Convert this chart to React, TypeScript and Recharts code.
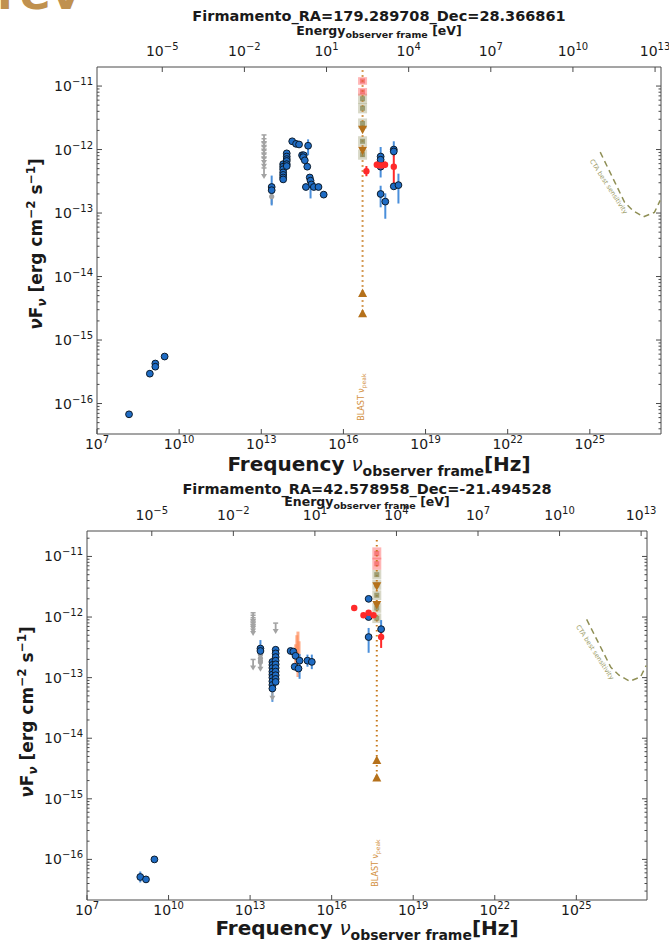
import React from 'react';
import { ScatterChart, Scatter, XAxis, YAxis, ErrorBar, ReferenceLine, ReferenceDot } from 'recharts';

const FONT = "'DejaVu Sans', sans-serif";
const INK = '#1a1a1a';
const SPINE = '#4a4a4a';
const H_EV = Math.log10(4.135667e-15); // Planck constant, eV s

// everything below is log10: nu in Hz, nuFnu in erg cm-2 s-1
const nuDomain: [number, number] = [7, 27.6];
const nuTicks = [7, 10, 13, 16, 19, 22, 25];
const energyTicks = [-5, -2, 1, 4, 7, 10, 13];
const fluxDecades = [-17, -16, -15, -14, -13, -12, -11];

const ctaNu = [25.38, 26.27, 26.57, 26.96, 27.36, 27.57];
const ctaF = [-12.04, -12.83, -12.96, -13.06, -12.99, -12.8];
const ctaLabel = { nu: 25.62, f: -12.6 };

// ---- top source
const topTitle = 'Firmamento_RA=179.289708_Dec=28.366861';
const topFluxDomain: [number, number] = [-16.48, -10.7];
const topRadioNu = [8.17, 8.93, 9.13, 9.13, 9.47];
const topRadioF = [-16.17, -15.53, -15.37, -15.42, -15.26];
const topIrNu = [13.38, 13.38, 13.8, 13.8, 13.8, 13.8, 13.8, 13.8, 13.8, 13.93, 13.93, 13.93, 13.93, 13.93, 13.93, 14.13, 14.27, 14.38, 14.71, 14.49, 14.55, 14.53, 14.59, 14.68, 14.77, 14.8, 14.83, 14.63, 14.92, 15.09, 15.28];
const topIrF = [-12.59, -12.64, -12.23, -12.27, -12.31, -12.36, -12.4, -12.44, -12.47, -12.06, -12.11, -12.15, -12.18, -12.23, -12.26, -11.87, -11.91, -11.92, -11.94, -12.09, -12.09, -12.12, -12.17, -12.27, -12.44, -12.49, -12.55, -12.59, -12.59, -12.59, -12.71];
const topIrLo = [0.29, 0, 0, 0, 0, 0, 0, 0, 0, 0, 0, 0, 0, 0, 0, 0, 0, 0, 0.15, 0, 0, 0, 0, 0, 0, 0.28, 0, 0, 0, 0, 0];
const topIrHi = [0.18, 0, 0, 0, 0, 0, 0, 0, 0, 0, 0, 0, 0, 0, 0, 0, 0, 0, 0.1, 0, 0, 0, 0, 0, 0, 0.05, 0, 0, 0, 0, 0];
const topXNu = [17.36, 17.36, 17.36, 17.36, 17.53, 17.84, 17.84, 17.84, 18.01];
const topXF = [-12.11, -12.16, -12.27, -12.7, -12.82, -12.0, -12.03, -12.58, -12.56];
const topXLo = [0, 0.28, 0, 0.21, 0.27, 0, 0.08, 0, 0.29];
const topXHi = [0.15, 0, 0, 0.13, 0.13, 0.13, 0, 0, 0.18];
const topRedNu = [16.84, 17.22, 17.32, 17.42, 17.52, 17.84];
const topRedF = [-12.34, -12.24, -12.25, -12.25, -12.24, -12.27];
const topRedLo = [0.08, 0.05, 0.05, 0.05, 0.05, 0.32];
const topRedHi = [0.08, 0.05, 0.05, 0.05, 0.05, 0.26];
const topRedXe = [0, 0.1, 0.1, 0.1, 0.1, 0];
const topUlNu = [13.1];
const topUlF = [-11.77, -11.83, -11.89, -11.95, -12.01, -12.07, -12.13, -12.29];
const topGreyNu = [13.38];
const topGreyF = [-12.66, -12.74];
const topGreyErr = [0.12, 0.12];
const topBlastNu = 16.7;
const topBlastSpan: [number, number] = [-10.75, -14.58];
const topBlastRedF = [-10.92, -11.09];
const topBlastRedErr = [0.06, 0.06];
const topBlastOliveF = [-11.2, -11.35, -11.59, -11.87, -12.08];
const topBlastOliveErr = [0.08, 0.08, 0.08, 0.08, 0.08];
const topBlastDownF = [-11.69, -12.02];
const topBlastUpF = [-14.26, -14.58];
const topBlastLabelF = -15.9;

// ---- bottom source
const botTitle = 'Firmamento_RA=42.578958_Dec=-21.494528';
const botFluxDomain: [number, number] = [-16.67, -10.58];
const botRadioNu = [8.96, 9.17, 9.48];
const botRadioF = [-16.29, -16.33, -16.0];
const botRadioErr = [0.09, 0.04, 0.03];
const botIrNu = [13.38, 13.38, 13.82, 13.82, 13.82, 13.82, 13.82, 13.82, 13.82, 13.82, 13.82, 13.94, 13.94, 13.94, 13.94, 13.94, 13.94, 13.94, 13.94, 13.94, 13.94, 14.49, 14.59, 14.67, 14.82, 14.64, 14.78, 15.11, 15.27];
const botIrF = [-12.52, -12.56, -12.74, -12.79, -12.84, -12.9, -12.95, -13.0, -13.06, -13.12, -13.18, -12.54, -12.6, -12.66, -12.72, -12.78, -12.84, -12.9, -12.96, -13.02, -13.07, -12.56, -12.57, -12.64, -12.72, -12.82, -12.85, -12.72, -12.74];
const botIrLo = [0, 0.2, 0, 0, 0, 0, 0, 0, 0, 0, 0.22, 0, 0, 0, 0, 0, 0, 0, 0, 0, 0, 0, 0, 0, 0.3, 0, 0, 0.1, 0.12];
const botIrHi = [0.14, 0, 0, 0, 0, 0, 0, 0, 0, 0, 0, 0, 0, 0, 0, 0, 0, 0, 0, 0, 0, 0, 0, 0, 0.11, 0, 0, 0.1, 0.12];
const botSalmonNu = [14.68, 14.72, 14.76, 14.8];
const botSalmonF = [-12.62, -12.6, -12.62, -12.55];
const botSalmonLo = [0.18, 0.3, 0.37, 0.15];
const botSalmonHi = [0.17, 0.3, 0.38, 0.15];
const botXNu = [17.36, 17.36, 17.36, 17.82];
const botXF = [-11.7, -12.0, -12.33, -12.2];
const botXLo = [0, 0, 0.26, 0];
const botXHi = [0, 0, 0.15, 0.15];
const botRedNu = [16.83, 17.17, 17.36, 17.54, 17.82];
const botRedF = [-11.85, -11.97, -11.93, -11.97, -12.33];
const botRedLo = [0, 0, 0, 0, 0.18];
const botRedHi = [0, 0, 0, 0, 0.12];
const botRedXe = [0, 0.05, 0.05, 0.05, 0];
const botUlNu = [13.11, 13.11, 13.11, 13.11, 13.11, 13.11, 13.11, 13.38, 13.94, 13.82];
const botUlF = [-11.93, -11.97, -12.01, -12.05, -12.09, -12.13, -12.7, -12.72, -12.1, -13.2];
const botGreyNu = [13.38];
const botGreyF = [-12.62, -12.68, -12.74];
const botGreyErr = [0.1, 0.1, 0.1];
const botBlastNu = 17.66;
const botBlastSpan: [number, number] = [-10.73, -14.65];
const botBlastRedF = [-10.95, -11.12];
const botBlastRedErr = [0.1, 0.1];
const botBlastOliveF = [-11.3, -11.47, -11.64, -11.85, -12.02];
const botBlastOliveErr = [0.08, 0.08, 0.08, 0.08, 0.08];
const botBlastDownF = [-11.49, -11.8];
const botBlastUpF = [-14.36, -14.65];
const botBlastLabelF = -16.06;

type Pt = { x: number; y: number; ey: [number, number]; ex: [number, number] };
const pts = (nu: number[], f: number[], lo: number[] = [], hi: number[] = lo, xe: number[] = []): Pt[] =>
  f.map((y, i) => ({
    x: nu[Math.min(i, nu.length - 1)],
    y,
    ey: [lo[i] ?? 0, hi[i] ?? 0],
    ex: [xe[i] ?? 0, xe[i] ?? 0],
  }));

const fluxTicks = (dom: [number, number]) => {
  const out: number[] = [];
  fluxDecades.forEach((d) => {
    for (let k = 1; k <= 9; k++) {
      const v = d + Math.log10(k);
      if (v >= dom[0] && v <= dom[1]) out.push(v);
    }
  });
  return out;
};

const sup = (v: number) => (v < 0 ? '\u2212' + Math.abs(v) : String(v));

const FluxTick = (p: any) => {
  const v = p.payload.value;
  const major = Math.abs(v - Math.round(v)) < 1e-6;
  const len = major ? 5 : 2.5;
  return (
    <g>
      <line x1={p.x} x2={p.x + p.side * len} y1={p.y} y2={p.y} stroke={SPINE} strokeWidth={1} />
      {major && p.side > 0 && (
        <text x={p.x - 4} y={p.y + 5} textAnchor="end" fontSize={14} fontFamily={FONT} fill={INK}>
          10<tspan dy={-6} fontSize={10}>{sup(Math.round(v))}</tspan>
        </text>
      )}
    </g>
  );
};

const FreqTick = (p: any) => (
  <g>
    <line x1={p.x} x2={p.x} y1={p.y} y2={p.y - 5} stroke={SPINE} />
    <text x={p.x} y={p.y + 15} textAnchor="middle" fontSize={14} fontFamily={FONT} fill={INK}>
      10<tspan dy={-6} fontSize={10}>{sup(p.payload.value)}</tspan>
    </text>
  </g>
);

const EnergyTick = (p: any) => (
  <g>
    <line x1={p.x} x2={p.x} y1={p.y} y2={p.y + 5} stroke={SPINE} />
    <text x={p.x} y={p.y - 11} textAnchor="middle" fontSize={14} fontFamily={FONT} fill={INK}>
      10<tspan dy={-6} fontSize={10}>{sup(p.payload.value)}</tspan>
    </text>
  </g>
);

const BlueDot = (p: any) => <circle cx={p.cx} cy={p.cy} r={3.4} fill="#1f6cc4" stroke="#0d1b2a" strokeWidth={1} />;
const RedDot = (p: any) => <circle cx={p.cx} cy={p.cy} r={3.2} fill="#ff2a2a" />;
const GreyDot = (p: any) => <circle cx={p.cx} cy={p.cy} r={2.6} fill="#a3a3a3" />;
const NoDot = () => <g />;
const GreyArrow = (p: any) => (
  <g>
    <line x1={p.cx - 2.5} x2={p.cx + 2.5} y1={p.cy} y2={p.cy} stroke="#a3a3a3" strokeWidth={1.5} />
    <line x1={p.cx} x2={p.cx} y1={p.cy} y2={p.cy + 7} stroke="#a3a3a3" strokeWidth={1.8} />
    <polygon points={`${p.cx - 3},${p.cy + 6} ${p.cx + 3},${p.cy + 6} ${p.cx},${p.cy + 11}`} fill="#a3a3a3" />
  </g>
);
const DownTri = (p: any) => (
  <polygon points={`${p.cx - 4.5},${p.cy - 4} ${p.cx + 4.5},${p.cy - 4} ${p.cx},${p.cy + 4.5}`} fill="#b5711b" />
);
const UpTri = (p: any) => (
  <polygon points={`${p.cx - 4.5},${p.cy + 4} ${p.cx + 4.5},${p.cy + 4} ${p.cx},${p.cy - 4.5}`} fill="#b5711b" />
);
const OliveSq = (p: any) => <rect x={p.cx - 2.5} y={p.cy - 2.5} width={5} height={5} fill="#8a8a55" opacity={0.75} />;
const RedSq = (p: any) => <rect x={p.cx - 2.5} y={p.cy - 2.5} width={5} height={5} fill="#f04848" opacity={0.55} />;

interface PanelCfg {
  title: string;
  top: number;
  height: number;
  margin: { top: number; right: number; bottom: number; left: number };
  yDomain: [number, number];
  blue: Pt[];
  red: Pt[];
  grey: Pt[];
  ul: Pt[];
  salmon: Pt[];
  blastNu: number;
  blastSpan: [number, number];
  blastRed: Pt[];
  blastOlive: Pt[];
  blastDown: Pt[];
  blastUp: Pt[];
  blastLabelF: number;
  text: { cx: number; titleY: number; energyY: number; xLabelY: number; yLabelX: number; yLabelY: number };
}

const cta = pts(ctaNu, ctaF);

const panels: PanelCfg[] = [
  {
    title: topTitle,
    top: 0,
    height: 470,
    margin: { top: 37, right: 7, bottom: 6, left: 37 },
    yDomain: topFluxDomain,
    blue: [...pts(topRadioNu, topRadioF), ...pts(topIrNu, topIrF, topIrLo, topIrHi), ...pts(topXNu, topXF, topXLo, topXHi)],
    red: pts(topRedNu, topRedF, topRedLo, topRedHi, topRedXe),
    grey: pts(topGreyNu, topGreyF, topGreyErr),
    ul: pts(topUlNu, topUlF),
    salmon: [],
    blastNu: topBlastNu,
    blastSpan: topBlastSpan,
    blastRed: pts([topBlastNu], topBlastRedF, topBlastRedErr),
    blastOlive: pts([topBlastNu], topBlastOliveF, topBlastOliveErr),
    blastDown: pts([topBlastNu], topBlastDownF),
    blastUp: pts([topBlastNu], topBlastUpF),
    blastLabelF: topBlastLabelF,
    text: { cx: 379, titleY: 9, energyY: 25, xLabelY: 454, yLabelX: 36, yLabelY: 244 },
  },
  {
    title: botTitle,
    top: 470,
    height: 472,
    margin: { top: 31, right: 21, bottom: 12, left: 27 },
    yDomain: botFluxDomain,
    blue: [...pts(botRadioNu, botRadioF, botRadioErr), ...pts(botIrNu, botIrF, botIrLo, botIrHi), ...pts(botXNu, botXF, botXLo, botXHi)],
    red: pts(botRedNu, botRedF, botRedLo, botRedHi, botRedXe),
    grey: pts(botGreyNu, botGreyF, botGreyErr),
    ul: pts(botUlNu, botUlF),
    salmon: pts(botSalmonNu, botSalmonF, botSalmonLo, botSalmonHi),
    blastNu: botBlastNu,
    blastSpan: botBlastSpan,
    blastRed: pts([botBlastNu], botBlastRedF, botBlastRedErr),
    blastOlive: pts([botBlastNu], botBlastOliveF, botBlastOliveErr),
    blastDown: pts([botBlastNu], botBlastDownF),
    blastUp: pts([botBlastNu], botBlastUpF),
    blastLabelF: botBlastLabelF,
    text: { cx: 367, titleY: 482, energyY: 496, xLabelY: 918, yLabelX: 27, yLabelY: 712 },
  },
];

const ids = { xAxisId: 'x', yAxisId: 'y' };

function SedPanel({ cfg }: { cfg: PanelCfg }) {
  const yTicks = fluxTicks(cfg.yDomain);
  // the energy axis and the mirrored flux axis carry the same points, invisibly, so that they get drawn
  const mirrored = cfg.blastUp.map((p) => ({ ...p, x: p.x + H_EV }));
  return (
    <div style={{ position: 'absolute', left: 0, top: cfg.top }}>
      <ScatterChart width={669} height={cfg.height} margin={cfg.margin}>
        <XAxis xAxisId="x" dataKey="x" type="number" domain={nuDomain} allowDataOverflow ticks={nuTicks} interval={0}
          height={30} tickSize={0} tickMargin={0} tickLine={false} axisLine={{ stroke: SPINE }} tick={FreqTick} />
        <XAxis xAxisId="e" dataKey="x" orientation="top" type="number" domain={[nuDomain[0] + H_EV, nuDomain[1] + H_EV]} allowDataOverflow
          ticks={energyTicks} interval={0} height={30} tickSize={0} tickMargin={0} tickLine={false} axisLine={{ stroke: SPINE }} tick={EnergyTick} />
        <YAxis yAxisId="y" dataKey="y" type="number" domain={cfg.yDomain} allowDataOverflow ticks={yTicks} interval={0}
          width={60} tickSize={0} tickMargin={0} tickLine={false} axisLine={{ stroke: SPINE }} tick={(p: any) => <FluxTick {...p} side={1} />} />
        <YAxis yAxisId="r" dataKey="y" orientation="right" type="number" domain={cfg.yDomain} allowDataOverflow ticks={yTicks} interval={0}
          width={1} tickSize={0} tickMargin={0} tickLine={false} axisLine={{ stroke: SPINE }} tick={(p: any) => <FluxTick {...p} side={-1} />} />

        <Scatter xAxisId="e" yAxisId="r" data={mirrored} shape={NoDot} isAnimationActive={false} />

        <Scatter {...ids} data={cfg.blastOlive} shape={OliveSq} isAnimationActive={false}>
          <ErrorBar dataKey="ey" direction="y" width={0} stroke="rgba(125,125,70,0.3)" strokeWidth={9} />
        </Scatter>
        <Scatter {...ids} data={cfg.blastRed} shape={RedSq} isAnimationActive={false}>
          <ErrorBar dataKey="ey" direction="y" width={0} stroke="rgba(255,90,90,0.45)" strokeWidth={9} />
        </Scatter>
        <ReferenceLine {...ids} segment={[{ x: cfg.blastNu, y: cfg.blastSpan[0] }, { x: cfg.blastNu, y: cfg.blastSpan[1] }]}
          stroke="#c77a1e" strokeWidth={2} strokeDasharray="1.5 3.5" />
        <Scatter {...ids} data={cfg.blastDown} shape={DownTri} isAnimationActive={false} />
        <Scatter {...ids} data={cfg.blastUp} shape={UpTri} isAnimationActive={false} />
        <ReferenceDot {...ids} x={cfg.blastNu} y={cfg.blastLabelF} r={0}
          shape={(p: any) => (
            <text x={p.cx + 1} y={p.cy} transform={`rotate(-90 ${p.cx + 1} ${p.cy})`} textAnchor="middle" fontSize={8} fontFamily={FONT} fill="#d3913f">
              BLAST ν<tspan fontSize={6} dy={2}>peak</tspan>
            </text>
          )} />

        <Scatter {...ids} data={cta} shape={NoDot} line={{ stroke: '#8f8f55', strokeWidth: 1.5, strokeDasharray: '6 4' }} isAnimationActive={false} />
        <ReferenceDot {...ids} x={ctaLabel.nu} y={ctaLabel.f} r={0}
          shape={(p: any) => (
            <text x={p.cx} y={p.cy} transform={`rotate(57 ${p.cx} ${p.cy})`} textAnchor="middle" fontSize={6.5} fontFamily={FONT} fill="#9c9c68">
              CTA best sensitivity
            </text>
          )} />

        <Scatter {...ids} data={cfg.ul} shape={GreyArrow} isAnimationActive={false} />
        <Scatter {...ids} data={cfg.grey} shape={GreyDot} isAnimationActive={false}>
          <ErrorBar dataKey="ey" direction="y" width={0} stroke="#a3a3a3" strokeWidth={2} />
        </Scatter>
        <Scatter {...ids} data={cfg.salmon} shape={NoDot} isAnimationActive={false}>
          <ErrorBar dataKey="ey" direction="y" width={0} stroke="rgba(255,140,90,0.7)" strokeWidth={3} />
        </Scatter>
        <Scatter {...ids} data={cfg.blue} shape={BlueDot} isAnimationActive={false}>
          <ErrorBar dataKey="ey" direction="y" width={0} stroke="#4a8fdb" strokeWidth={2} />
        </Scatter>
        <Scatter {...ids} data={cfg.red} shape={RedDot} isAnimationActive={false}>
          <ErrorBar dataKey="ey" direction="y" width={0} stroke="#ff2a2a" strokeWidth={2} />
          <ErrorBar dataKey="ex" direction="x" width={0} stroke="#ff2a2a" strokeWidth={2} />
        </Scatter>
      </ScatterChart>
    </div>
  );
}

const center: React.CSSProperties = { position: 'absolute', transform: 'translateX(-50%)', whiteSpace: 'nowrap', fontFamily: FONT, fontWeight: 'bold', color: INK, lineHeight: 1 };

function PanelText({ cfg }: { cfg: PanelCfg }) {
  const t = cfg.text;
  return (
    <>
      <div style={{ ...center, left: t.cx, top: t.titleY, fontSize: 14.5 }}>{cfg.title}</div>
      <div style={{ ...center, left: t.cx, top: t.energyY, fontSize: 12.5 }}>
        Energy<span style={{ fontSize: 9.5, position: 'relative', top: 3 }}>observer frame</span> [eV]
      </div>
      <div style={{ ...center, left: t.cx, top: t.xLabelY, fontSize: 20 }}>
        Frequency <i style={{ fontWeight: 'normal' }}>ν</i>
        <span style={{ fontSize: 14, position: 'relative', top: 5 }}>observer frame</span>[Hz]
      </div>
      <div style={{ ...center, left: t.yLabelX, top: t.yLabelY, fontSize: 17, transform: 'translate(-50%, -50%) rotate(-90deg)' }}>
        <i>ν</i>F<span style={{ fontSize: 12, position: 'relative', top: 4 }}><i>ν</i></span> [erg cm
        <span style={{ fontSize: 12, position: 'relative', top: -7 }}>−2</span> s<span style={{ fontSize: 12, position: 'relative', top: -7 }}>−1</span>]
      </div>
    </>
  );
}

export default function App() {
  return (
    <div style={{ position: 'absolute', left: 0, top: 0, width: 669, height: 942, background: '#fff', overflow: 'hidden' }}>
      <div style={{ position: 'absolute', left: -3, top: -30, fontFamily: FONT, fontWeight: 'bold', fontSize: 46, lineHeight: '46px', color: '#c0914f' }}>rev</div>
      {panels.map((cfg) => (
        <SedPanel key={cfg.title} cfg={cfg} />
      ))}
      {panels.map((cfg) => (
        <PanelText key={cfg.title + 't'} cfg={cfg} />
      ))}
    </div>
  );
}
